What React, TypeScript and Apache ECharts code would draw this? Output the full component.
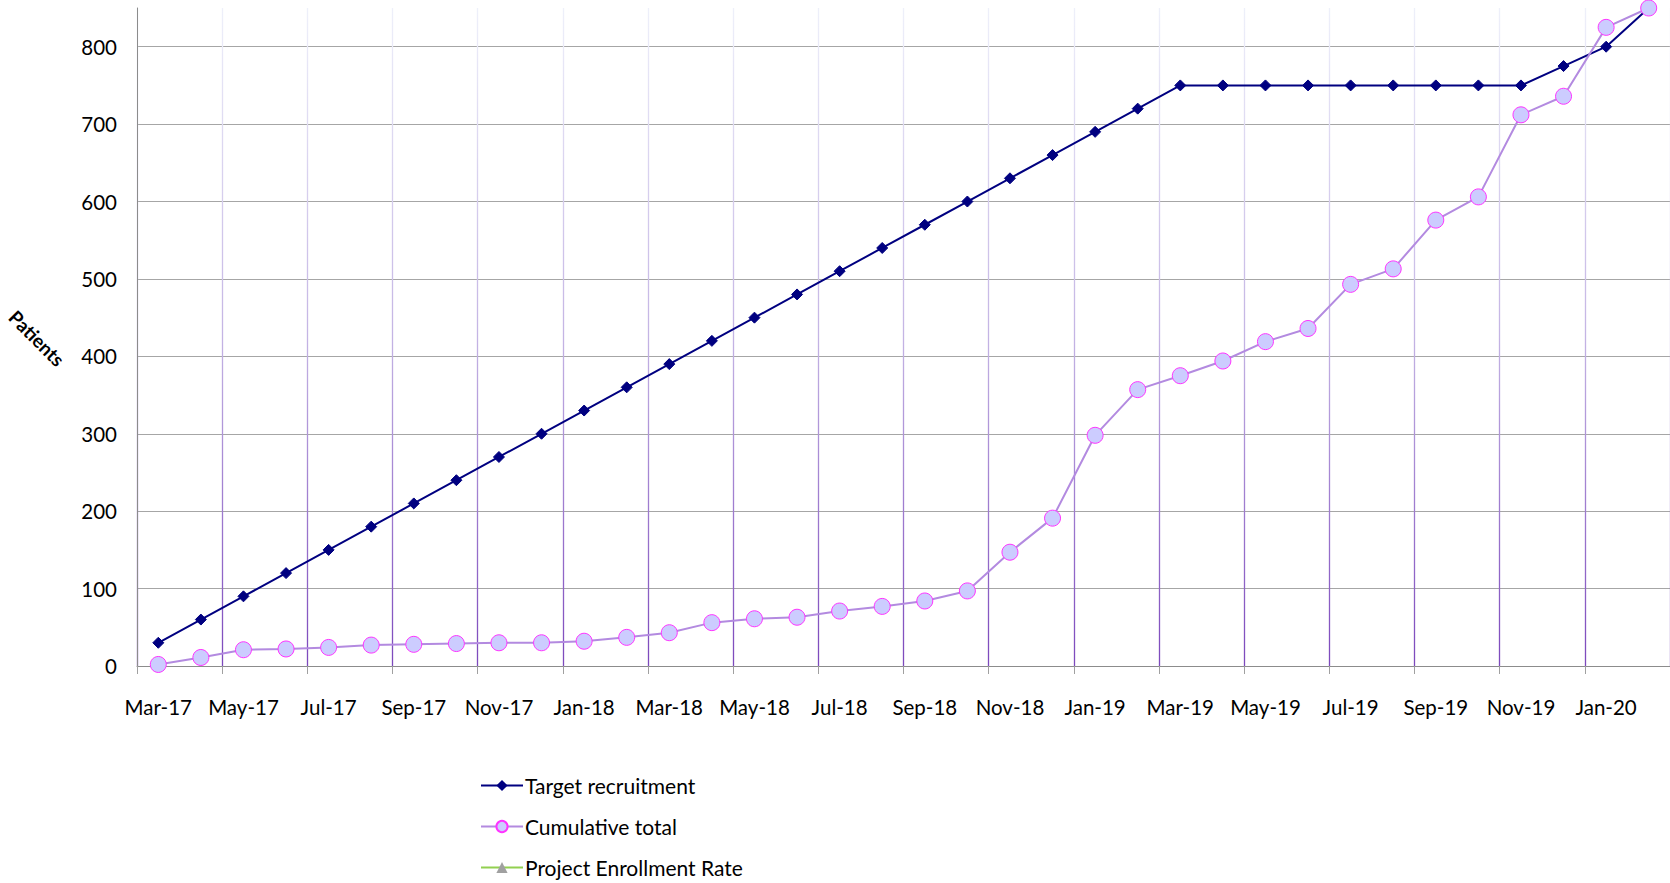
import React, { useEffect, useRef } from "react";
import * as echarts from "echarts";

// Monthly categories, Mar-17 through Feb-20
const months = [
  "Mar-17", "Apr-17", "May-17", "Jun-17", "Jul-17", "Aug-17", "Sep-17", "Oct-17", "Nov-17", "Dec-17",
  "Jan-18", "Feb-18", "Mar-18", "Apr-18", "May-18", "Jun-18", "Jul-18", "Aug-18", "Sep-18", "Oct-18", "Nov-18", "Dec-18",
  "Jan-19", "Feb-19", "Mar-19", "Apr-19", "May-19", "Jun-19", "Jul-19", "Aug-19", "Sep-19", "Oct-19", "Nov-19", "Dec-19",
  "Jan-20", "Feb-20",
];

const targetRecruitment = [
  30, 60, 90, 120, 150, 180, 210, 240, 270, 300,
  330, 360, 390, 420, 450, 480, 510, 540, 570, 600, 630, 660,
  690, 720, 750, 750, 750, 750, 750, 750, 750, 750, 750, 775,
  800, 850,
];

const cumulativeTotal = [
  2, 11, 21, 22, 24, 27, 28, 29, 30, 30,
  32, 37, 43, 56, 61, 63, 71, 77, 84, 97, 147, 191,
  298, 357, 375, 394, 419, 436, 493, 513, 576, 606, 712, 736,
  825, 850,
];

const projectEnrollmentRate: number[] = [];

const yTicks = { min: 0, max: 850, interval: 100 };

const FONT = "Lato, 'Noto Sans', sans-serif";

export default function App() {
  const ref = useRef<HTMLDivElement>(null);

  useEffect(() => {
    if (!ref.current) return;
    const chart = echarts.init(ref.current, undefined, { renderer: "svg" });

    const gridTop = 8;
    const gridBottom = 217;
    const plotBottom = 883 - gridBottom;

    const vGridColor = new echarts.graphic.LinearGradient(
      0, gridTop, 0, plotBottom,
      [
        { offset: 0, color: "#eef0fa" },
        { offset: 0.5, color: "#c4b4e4" },
        { offset: 1, color: "#7c48bc" },
      ],
      true
    );

    const hLineColors = new Array(9).fill("#a6a6a6").concat(["rgba(0,0,0,0)"]);

    chart.setOption({
      animation: false,
      backgroundColor: "#ffffff",
      textStyle: { fontFamily: FONT },
      grid: { left: 137, right: 0, top: gridTop, bottom: gridBottom, containLabel: false },
      xAxis: {
        type: "category",
        data: months,
        boundaryGap: true,
        axisLine: { show: true, lineStyle: { color: "#8c8c8c", width: 1 } },
        axisTick: { show: true, interval: 1, length: 8, lineStyle: { color: "#a0a0a0" } },
        axisLabel: { interval: 1, color: "#000", fontSize: 20.5, fontFamily: FONT, margin: 30 },
        splitLine: { show: true, interval: 1, lineStyle: { color: vGridColor, width: 1.3 } },
      },
      yAxis: {
        type: "value",
        min: yTicks.min,
        max: yTicks.max,
        interval: yTicks.interval,
        axisLine: { show: true, lineStyle: { color: "#8c8c8c", width: 1 } },
        axisTick: { show: false },
        axisLabel: {
          color: "#000",
          fontSize: 20.5,
          fontFamily: FONT,
          margin: 20,
          showMaxLabel: false,
        },
        splitLine: { show: true, lineStyle: { color: hLineColors, width: 1.2 } },
      },
      legend: {
        orient: "vertical",
        left: 480,
        top: 775,
        height: 140,
        padding: 0,
        itemWidth: 42,
        itemHeight: 14,
        itemGap: 20,
        textStyle: { fontSize: 21, color: "#000", fontFamily: FONT, padding: [0, 0, 0, -3] },
        data: ["Target recruitment", "Cumulative total", "Project Enrollment Rate"],
      },
      graphic: [
        {
          type: "text",
          x: 37,
          y: 338,
          rotation: -Math.PI / 4,
          style: {
            text: "Patients",
            fontSize: 19,
            fontWeight: "bold",
            fontFamily: FONT,
            fill: "#000",
            textAlign: "center",
            textVerticalAlign: "middle",
          },
        },
      ],
      series: [
        {
          name: "Target recruitment",
          type: "line",
          data: targetRecruitment,
          symbol: "diamond",
          symbolSize: 11,
          lineStyle: { color: "#000080", width: 2 },
          itemStyle: { color: "#000080", borderColor: "#000080" },
          z: 3,
        },
        {
          name: "Cumulative total",
          type: "line",
          data: cumulativeTotal,
          symbol: "circle",
          symbolSize: 16,
          lineStyle: { color: "#b38ae0", width: 2 },
          itemStyle: { color: "#ccccff", borderColor: "#ff33ff", borderWidth: 1 },
          z: 4,
        },
        {
          name: "Project Enrollment Rate",
          type: "line",
          data: projectEnrollmentRate,
          symbol: "triangle",
          symbolSize: 10,
          lineStyle: { color: "#92d050", width: 2 },
          itemStyle: { color: "#a0a0a0", borderColor: "#a0a0a0" },
        },
      ],
    });

    return () => chart.dispose();
  }, []);

  return (
    <div
      ref={ref}
      style={{ position: "fixed", left: 0, top: 0, width: 1670, height: 883, background: "#fff" }}
    />
  );
}
